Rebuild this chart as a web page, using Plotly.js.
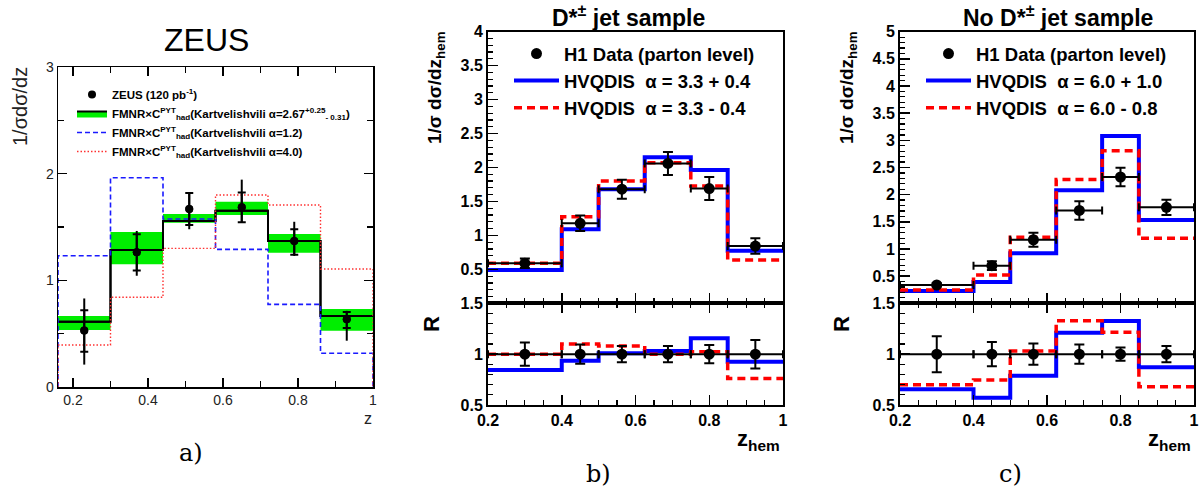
<!DOCTYPE html>
<html>
<head>
<meta charset="utf-8">
<script src="https://cdn.plot.ly/plotly-3.0.1.min.js"></script>
<style>html,body{margin:0;padding:0;background:#fff;}#plot{width:1200px;height:500px;}</style>
</head>
<body>
<div id="plot"></div>
<script>
// ---------------- DATA ----------------
// Panel a) ZEUS
const edgesA = [0.16, 0.30, 0.44, 0.58, 0.72, 0.86, 1.00];
const zeusCentral = [0.612, 1.284, 1.556, 1.653, 1.369, 0.666];
const zeusBandLo = [0.534, 1.150, 1.541, 1.612, 1.259, 0.528];
const zeusBandHi = [0.666, 1.453, 1.622, 1.737, 1.434, 0.731];
const zeusAlpha12 = [1.231, 1.962, 1.575, 1.290, 0.775, 0.316];
const zeusAlpha40 = [0.394, 0.841, 1.300, 1.800, 1.706, 1.106];
const zeusX = [0.23, 0.37, 0.51, 0.65, 0.79, 0.93];
const zeusY = [0.530, 1.263, 1.669, 1.684, 1.369, 0.634];
const zeusStatUp = [0.19, 0.17, 0.15, 0.14, 0.11, 0.07];
const zeusStatDn = [0.20, 0.17, 0.15, 0.14, 0.13, 0.08];
const zeusTotUp = [0.30, 0.20, 0.15, 0.26, 0.18, 0.08];
const zeusTotDn = [0.32, 0.22, 0.19, 0.14, 0.14, 0.20];

// Panels b) and c) H1
const edgesH1 = [0.2, 0.4, 0.5, 0.625, 0.75, 0.85, 1.0];
const h1X = [0.300, 0.450, 0.563, 0.688, 0.800, 0.925];

// b) D*± jet sample
const dstarData = [0.589, 1.178, 1.680, 2.060, 1.690, 0.843];
const dstarErr = [0.07, 0.115, 0.14, 0.17, 0.17, 0.115];
const dstarUp = [0.490, 1.090, 1.680, 2.150, 1.963, 0.775];   // alpha = 3.3 + 0.4
const dstarDn = [0.589, 1.275, 1.800, 2.070, 1.727, 0.637];   // alpha = 3.3 - 0.4
const dstarRatioData = [1, 1, 1, 1, 1, 1];
const dstarRatioErr = [0.115, 0.095, 0.08, 0.08, 0.09, 0.14];
const dstarRatioUp = [0.844, 0.936, 1.010, 1.030, 1.156, 0.926];
const dstarRatioDn = [1.000, 1.100, 1.080, 1.000, 1.024, 0.760];

// c) No D*± jet sample
const nodData = [0.337, 0.693, 1.170, 1.710, 2.325, 1.767];
const nodErr = [0.03, 0.08, 0.13, 0.17, 0.17, 0.14];
const nodUp = [0.227, 0.393, 0.920, 2.080, 3.080, 1.534];     // alpha = 6.0 + 1.0
const nodDn = [0.245, 0.520, 1.215, 2.280, 2.810, 1.196];     // alpha = 6.0 - 0.8
const nodRatioData = [1, 1, 1, 1, 1, 1];
const nodRatioErr = [0.177, 0.12, 0.105, 0.095, 0.065, 0.08];
const nodRatioUp = [0.654, 0.572, 0.788, 1.211, 1.326, 0.871];
const nodRatioDn = [0.700, 0.746, 1.031, 1.329, 1.215, 0.680];

// ---------------- HELPERS ----------------
const FONT = 'Liberation Sans, Arial, sans-serif';
const SERIF = 'DejaVu Serif, Liberation Serif, serif';
const stepY = v => v.concat([v[v.length - 1]]);
// histogram outline that drops to zero at both ends
const dropX = e => [e[0]].concat(e).concat([e[e.length - 1]]);
const dropY = v => [0].concat(v).concat([v[v.length - 1], 0]);
const xMinus = (xs, e) => xs.map((x, i) => x - e[i]);
const xPlus = (xs, e) => xs.map((x, i) => e[i + 1] - x);

const BLUE = '#0000ff', RED = '#ff0000', GREEN = '#00ee00';

const traces = [];

// ---- panel a ----
traces.push({x: edgesA, y: stepY(zeusBandLo), xaxis: 'x', yaxis: 'y', mode: 'lines',
  line: {shape: 'hv', width: 0, color: GREEN}, showlegend: false, hoverinfo: 'skip'});
traces.push({x: edgesA, y: stepY(zeusCentral), xaxis: 'x', yaxis: 'y', mode: 'lines',
  fill: 'tonexty', fillcolor: GREEN, line: {shape: 'hv', width: 2, color: '#000'},
  name: 'FMNR×C<sup>PYT</sup><sub>had</sub>(Kartvelishvili α=2.67<sup>+0.25</sup><sub>- 0.31</sub>)',
  legend: 'legend', legendrank: 2, legendgroup: 'a2'});
traces.push({x: edgesA, y: stepY(zeusBandHi), xaxis: 'x', yaxis: 'y', mode: 'lines',
  fill: 'tonexty', fillcolor: GREEN, line: {shape: 'hv', width: 0, color: GREEN},
  showlegend: false, hoverinfo: 'skip'});
traces.push({x: edgesA, y: stepY(zeusCentral), xaxis: 'x', yaxis: 'y', mode: 'lines',
  line: {shape: 'hv', width: 2, color: '#000'}, showlegend: false, hoverinfo: 'skip'});
traces.push({x: dropX(edgesA), y: dropY(zeusAlpha12), xaxis: 'x', yaxis: 'y', mode: 'lines',
  line: {shape: 'hv', width: 1.6, color: '#1a1aff', dash: '5px,3px'},
  name: 'FMNR×C<sup>PYT</sup><sub>had</sub>(Kartvelishvili α=1.2)',
  legend: 'legend', legendrank: 3, legendgroup: 'a3'});
traces.push({x: dropX(edgesA), y: dropY(zeusAlpha40), xaxis: 'x', yaxis: 'y', mode: 'lines',
  line: {shape: 'hv', width: 1.4, color: '#ff3030', dash: '1.5px,2px'},
  name: 'FMNR×C<sup>PYT</sup><sub>had</sub>(Kartvelishvili α=4.0)',
  legend: 'legend', legendrank: 4, legendgroup: 'a4'});
traces.push({x: zeusX, y: zeusY, xaxis: 'x', yaxis: 'y', mode: 'markers',
  marker: {color: '#000', size: 8},
  error_y: {type: 'data', symmetric: false, array: zeusTotUp, arrayminus: zeusTotDn,
    width: 0, thickness: 2, color: '#000'},
  showlegend: false, hoverinfo: 'skip'});
traces.push({x: zeusX, y: zeusY, xaxis: 'x', yaxis: 'y', mode: 'markers',
  marker: {color: '#000', size: 8},
  error_y: {type: 'data', symmetric: false, array: zeusStatUp, arrayminus: zeusStatDn,
    width: 4, thickness: 2, color: '#000'},
  name: 'ZEUS (120 pb<sup>-1</sup>)', legend: 'legend', legendrank: 1, legendgroup: 'a1'});

// ---- panels b, c ----
function h1Panel(xa, ya, xr, yr, leg, data, err, up, dn, rData, rErr, rUp, rDn, nameUp, nameDn) {
  traces.push({x: edgesH1, y: stepY(up), xaxis: xa, yaxis: ya, mode: 'lines',
    line: {shape: 'hv', width: 4, color: BLUE}, name: nameUp,
    legend: leg, legendrank: 2, legendgroup: leg + 'b'});
  traces.push({x: edgesH1, y: stepY(dn), xaxis: xa, yaxis: ya, mode: 'lines',
    line: {shape: 'hv', width: 3.5, color: RED, dash: '8px,5px'}, name: nameDn,
    legend: leg, legendrank: 3, legendgroup: leg + 'c'});
  traces.push({x: h1X, y: data, xaxis: xa, yaxis: ya, mode: 'markers',
    marker: {color: '#000', size: 11},
    error_y: {type: 'data', array: err, width: 5, thickness: 2, color: '#000'},
    error_x: {type: 'data', symmetric: false, array: xPlus(h1X, edgesH1), arrayminus: xMinus(h1X, edgesH1),
      width: 4, thickness: 2, color: '#000'},
    name: 'H1 Data (parton level)', legend: leg, legendrank: 1, legendgroup: leg + 'a'});
  traces.push({x: edgesH1, y: stepY(rUp), xaxis: xr, yaxis: yr, mode: 'lines',
    line: {shape: 'hv', width: 4, color: BLUE}, showlegend: false});
  traces.push({x: edgesH1, y: stepY(rDn), xaxis: xr, yaxis: yr, mode: 'lines',
    line: {shape: 'hv', width: 3.5, color: RED, dash: '8px,5px'}, showlegend: false});
  traces.push({x: h1X, y: rData, xaxis: xr, yaxis: yr, mode: 'markers',
    marker: {color: '#000', size: 11},
    error_y: {type: 'data', array: rErr, width: 5, thickness: 2, color: '#000'},
    error_x: {type: 'data', symmetric: false, array: xPlus(h1X, edgesH1), arrayminus: xMinus(h1X, edgesH1),
      width: 4, thickness: 2, color: '#000'},
    showlegend: false});
}
h1Panel('x2', 'y2', 'x3', 'y3', 'legend2', dstarData, dstarErr, dstarUp, dstarDn,
  dstarRatioData, dstarRatioErr, dstarRatioUp, dstarRatioDn,
  'HVQDIS\u00a0\u00a0α = 3.3 + 0.4', 'HVQDIS\u00a0\u00a0α = 3.3 - 0.4');
h1Panel('x4', 'y4', 'x5', 'y5', 'legend3', nodData, nodErr, nodUp, nodDn,
  nodRatioData, nodRatioErr, nodRatioUp, nodRatioDn,
  'HVQDIS\u00a0\u00a0α = 6.0 + 1.0', 'HVQDIS\u00a0\u00a0α = 6.0 - 0.8');

// ---------------- LAYOUT ----------------
const W = 1200, H = 500;
const px = v => v / W, py = v => 1 - v / H;

const tfA = {family: FONT, size: 14, color: '#222'};
const tfB = {family: FONT, size: 16, color: '#000', weight: 'bold'};

function ax(o) {
  return Object.assign({showgrid: false, zeroline: false, showline: true, linecolor: '#000',
    ticks: 'inside', tickcolor: '#000', automargin: false, fixedrange: true}, o);
}
function note(text, x, y, font, extra) {
  return Object.assign({text: text, x: px(x), y: py(y), xref: 'paper', yref: 'paper',
    xanchor: 'center', yanchor: 'middle', showarrow: false, font: font}, extra || {});
}

const mainB = [py(303.3), py(31.7)], ratioB = [py(405), py(303.3)];
const minorX = {ticks: 'inside', ticklen: 5, dtick: 0.05, tick0: 0, tickcolor: '#000', tickwidth: 1.2};
const minorY = {ticks: 'inside', ticklen: 5, dtick: 0.1, tick0: 0, tickcolor: '#000', tickwidth: 1.2};

const bold = (s) => ({family: FONT, size: s, color: '#000', weight: 'bold'});

const layout = {
  width: W, height: H, margin: {l: 0, r: 0, t: 0, b: 0},
  paper_bgcolor: '#fff', plot_bgcolor: 'rgba(0,0,0,0)', showlegend: true,
  // panel a
  xaxis: ax({domain: [px(58), px(373)], range: [0.16, 1.0], anchor: 'y', mirror: 'ticks',
    linewidth: 1.5, ticklen: 9, tickwidth: 1.2, tickvals: [0.2, 0.4, 0.6, 0.8, 1],
    ticktext: ['0.2', '0.4', '0.6', '0.8', '1'], tickfont: tfA,
    minor: {ticks: 'inside', ticklen: 6, dtick: 0.1, tick0: 0, tickcolor: '#000', tickwidth: 1.2}}),
  yaxis: ax({domain: [py(387), py(67)], range: [0, 3], anchor: 'x', mirror: 'ticks',
    linewidth: 1.5, ticklen: 9, tickwidth: 1.2, tickvals: [0, 1, 2, 3], tickfont: tfA,
    minor: {ticks: 'inside', ticklen: 6, dtick: 0.5, tick0: 0, tickcolor: '#000', tickwidth: 1.2}}),
  // panel b
  xaxis2: ax({domain: [px(488), px(783)], range: [0.2, 1.0], anchor: 'y2', mirror: true,
    linewidth: 2, ticklen: 10, tickwidth: 1.5, dtick: 0.2, tick0: 0, showticklabels: false, minor: minorX}),
  yaxis2: ax({domain: mainB, range: [0, 4], anchor: 'x2', mirror: true, linewidth: 2,
    ticklen: 10, tickwidth: 1.5, tickvals: [0.5, 1, 1.5, 2, 2.5, 3, 3.5, 4],
    ticktext: ['0.5', '1', '1.5', '2', '2.5', '3', '3.5', '4'], tickfont: tfB, minor: minorY}),
  xaxis3: ax({domain: [px(488), px(783)], range: [0.2, 1.0], anchor: 'y3', mirror: 'ticks',
    linewidth: 2, ticklen: 10, tickwidth: 1.5, tickvals: [0.2, 0.4, 0.6, 0.8, 1],
    ticktext: ['0.2', '0.4', '0.6', '0.8', '1'], tickfont: tfB, minor: minorX}),
  yaxis3: ax({domain: ratioB, range: [0.5, 1.5], anchor: 'x3', mirror: true, linewidth: 2,
    ticklen: 10, tickwidth: 1.5, tickvals: [0.5, 1, 1.5], ticktext: ['0.5', '1', '1.5'], tickfont: tfB, minor: minorY}),
  // panel c
  xaxis4: ax({domain: [px(900), px(1194)], range: [0.2, 1.0], anchor: 'y4', mirror: true,
    linewidth: 2, ticklen: 10, tickwidth: 1.5, dtick: 0.2, tick0: 0, showticklabels: false, minor: minorX}),
  yaxis4: ax({domain: mainB, range: [0, 5], anchor: 'x4', mirror: true, linewidth: 2,
    ticklen: 10, tickwidth: 1.5, tickvals: [0.5, 1, 1.5, 2, 2.5, 3, 3.5, 4, 4.5, 5],
    ticktext: ['0.5', '1', '1.5', '2', '2.5', '3', '3.5', '4', '4.5', '5'], tickfont: tfB, minor: minorY}),
  xaxis5: ax({domain: [px(900), px(1194)], range: [0.2, 1.0], anchor: 'y5', mirror: 'ticks',
    linewidth: 2, ticklen: 10, tickwidth: 1.5, tickvals: [0.2, 0.4, 0.6, 0.8, 1],
    ticktext: ['0.2', '0.4', '0.6', '0.8', '1'], tickfont: tfB, minor: minorX}),
  yaxis5: ax({domain: ratioB, range: [0.5, 1.5], anchor: 'x5', mirror: true, linewidth: 2,
    ticklen: 10, tickwidth: 1.5, tickvals: [0.5, 1, 1.5], ticktext: ['0.5', '1', '1.5'], tickfont: tfB, minor: minorY}),
  legend: {x: px(72), y: py(80), xanchor: 'left', yanchor: 'top', bgcolor: 'rgba(0,0,0,0)',
    font: {family: FONT, size: 11.5, color: '#000', weight: 'bold'}, itemwidth: 30,
    traceorder: 'normal', tracegroupgap: 0, borderwidth: 0},
  legend2: {x: px(509), y: py(35), xanchor: 'left', yanchor: 'top', bgcolor: 'rgba(0,0,0,0)',
    font: bold(18.5), itemwidth: 45, traceorder: 'normal', tracegroupgap: 12, borderwidth: 0},
  legend3: {x: px(921), y: py(35), xanchor: 'left', yanchor: 'top', bgcolor: 'rgba(0,0,0,0)',
    font: bold(18.5), itemwidth: 45, traceorder: 'normal', tracegroupgap: 12, borderwidth: 0},
  annotations: [
    note('ZEUS', 207, 40, {family: FONT, size: 32, color: '#000'}),
    note('D*<sup>±</sup> jet sample', 628, 16, bold(23)),
    note('No D*<sup>±</sup> jet sample', 1058, 16, bold(23)),
    note('1/σdσ/dz', 20, 107, {family: FONT, size: 20, color: '#222'}, {textangle: -90}),
    note('1/σ dσ/dz<sub>hem</sub>', 436, 88, bold(19), {textangle: -90}),
    note('1/σ dσ/dz<sub>hem</sub>', 848, 88, bold(19), {textangle: -90}),
    note('R', 431, 324, bold(22), {textangle: -90}),
    note('R', 841, 324, bold(22), {textangle: -90}),
    note('z', 368, 418, {family: FONT, size: 16, color: '#222'}),
    note('z<sub>hem</sub>', 782, 440, bold(22), {xanchor: 'right'}),
    note('z<sub>hem</sub>', 1193, 440, bold(22), {xanchor: 'right'}),
    note('a)', 191, 453, {family: SERIF, size: 24, color: '#000'}),
    note('b)', 598, 474, {family: SERIF, size: 24, color: '#000'}),
    note('c)', 1010, 474, {family: SERIF, size: 24, color: '#000'})
  ]
};

Plotly.newPlot('plot', traces, layout, {staticPlot: true, displayModeBar: false});
</script>
</body>
</html>
